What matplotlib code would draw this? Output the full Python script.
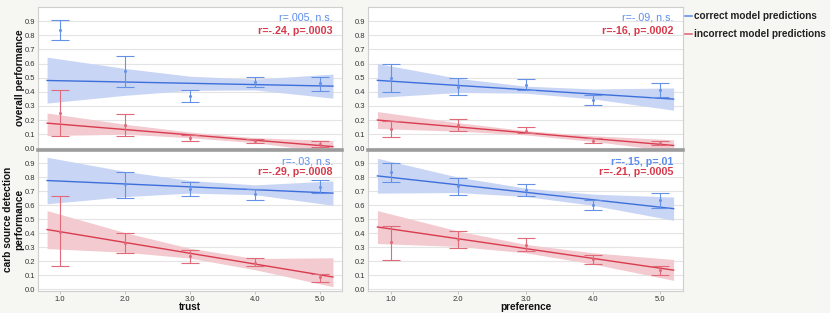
import matplotlib
matplotlib.use("Agg")
import matplotlib.pyplot as plt
from matplotlib.lines import Line2D
import numpy as np

plt.rcParams['font.family'] = ['Liberation Sans', 'DejaVu Sans']

# ---------------- data ----------------
levels = [1.0, 2.0, 3.0, 4.0, 5.0]
xtick_labels = ["1.0", "2.0", "3.0", "4.0", "5.0"]
band_x = [0.8, 2.0, 3.0, 4.0, 5.2]

# top-left: trust vs overall performance
tl_blue_x = [1, 2, 3, 4, 5]
tl_blue_mean = [0.835, 0.55, 0.37, 0.47, 0.46]
tl_blue_lo = [0.765, 0.435, 0.33, 0.435, 0.405]
tl_blue_hi = [0.905, 0.655, 0.41, 0.505, 0.505]
tl_blue_fit = [0.48, 0.44]
tl_blue_band_lo = [0.32, 0.375, 0.41, 0.413, 0.355]
tl_blue_band_hi = [0.645, 0.565, 0.51, 0.49, 0.525]
tl_red_x = [1, 2, 3, 4, 5]
tl_red_mean = [0.25, 0.165, 0.075, 0.055, 0.03]
tl_red_lo = [0.09, 0.09, 0.05, 0.04, 0.012]
tl_red_hi = [0.41, 0.245, 0.095, 0.067, 0.05]
tl_red_fit = [0.178, 0.012]
tl_red_band_lo = [0.09, 0.10, 0.075, 0.04, -0.03]
tl_red_band_hi = [0.25, 0.17, 0.115, 0.075, 0.055]

# top-right: preference vs overall performance
tr_blue_x = [1, 2, 3, 4, 5]
tr_blue_mean = [0.50, 0.435, 0.45, 0.34, 0.41]
tr_blue_lo = [0.40, 0.375, 0.41, 0.305, 0.36]
tr_blue_hi = [0.60, 0.495, 0.49, 0.375, 0.465]
tr_blue_fit = [0.481, 0.348]
tr_blue_band_lo = [0.36, 0.395, 0.39, 0.35, 0.27]
tr_blue_band_hi = [0.60, 0.495, 0.44, 0.42, 0.427]
tr_red_x = [1, 2, 3, 4, 5]
tr_red_mean = [0.135, 0.165, 0.12, 0.055, 0.035]
tr_red_lo = [0.08, 0.125, 0.105, 0.04, 0.02]
tr_red_hi = [0.19, 0.21, 0.15, 0.07, 0.055]
tr_red_fit = [0.20, 0.02]
tr_red_band_lo = [0.14, 0.121, 0.095, 0.049, -0.02]
tr_red_band_hi = [0.26, 0.181, 0.125, 0.089, 0.06]

# bottom-left: trust vs carb source detection
bl_blue_x = [2, 3, 4, 5]
bl_blue_mean = [0.75, 0.72, 0.68, 0.73]
bl_blue_lo = [0.655, 0.67, 0.64, 0.685]
bl_blue_hi = [0.84, 0.765, 0.715, 0.78]
bl_blue_fit = [0.777, 0.687]
bl_blue_band_lo = [0.611, 0.662, 0.687, 0.676, 0.60]
bl_blue_band_hi = [0.943, 0.842, 0.777, 0.746, 0.774]
bl_red_x = [1, 2, 3, 4, 5]
bl_red_mean = [0.41, 0.33, 0.235, 0.19, 0.085]
bl_red_lo = [0.165, 0.26, 0.19, 0.165, 0.055]
bl_red_hi = [0.665, 0.40, 0.28, 0.225, 0.11]
bl_red_fit = [0.427, 0.088]
bl_red_band_lo = [0.291, 0.265, 0.223, 0.14, 0.019]
bl_red_band_hi = [0.562, 0.405, 0.293, 0.22, 0.225]

# bottom-right: preference vs carb source detection
br_blue_x = [1, 2, 3, 4, 5]
br_blue_mean = [0.835, 0.74, 0.71, 0.605, 0.635]
br_blue_lo = [0.765, 0.675, 0.67, 0.565, 0.58]
br_blue_hi = [0.90, 0.795, 0.75, 0.64, 0.685]
br_blue_fit = [0.81, 0.576]
br_blue_band_lo = [0.687, 0.691, 0.663, 0.60, 0.493]
br_blue_band_hi = [0.936, 0.801, 0.723, 0.68, 0.659]
br_red_x = [1, 2, 3, 4, 5]
br_red_mean = [0.335, 0.36, 0.32, 0.215, 0.135]
br_red_lo = [0.21, 0.295, 0.275, 0.18, 0.105]
br_red_hi = [0.455, 0.42, 0.365, 0.245, 0.165]
br_red_fit = [0.445, 0.137]
br_red_band_lo = [0.327, 0.306, 0.261, 0.181, 0.064]
br_red_band_hi = [0.562, 0.416, 0.321, 0.261, 0.213]

annotations = {
    "tl": ("r=.005, n.s.", False, "r=-.24, p=.0003", True),
    "tr": ("r=-.09, n.s.", False, "r=-16, p=.0002", True),
    "bl": ("r=-.03, n.s.", False, "r=-.29, p=.0008", True),
    "br": ("r=-.15, p=.01", True, "r=-.21, p=.0005", True),
}
legend_labels = ["correct model predictions", "incorrect model predictions"]

# ---------------- styling ----------------
BG = "#f6f6f2"
BLUE_LINE = "#3d6fdc"
RED_LINE = "#d83c4e"
BLUE_BAR = "#6592e6"
RED_BAR = "#e06a79"
BLUE_BAND = "#c9d5f4"
RED_BAND = "#f3cacf"
BLUE_TXT = "#5d8ded"
RED_TXT = "#d8394a"

W, H = 830, 313
fig = plt.figure(figsize=(W / 100, H / 100), dpi=100, facecolor=BG)


def px_axes(x0, y0, x1, y1):
    return fig.add_axes([x0 / W, 1 - y1 / H, (x1 - x0) / W, (y1 - y0) / H])


ax_tl = px_axes(38, 7, 342, 150)
ax_tr = px_axes(368, 7, 683, 150)
ax_bl = px_axes(38, 150, 342, 291)
ax_br = px_axes(368, 150, 683, 291)


def draw_series(ax, x, mean, lo, hi, fit, blo, bhi, line_c, bar_c, band_c):
    bx = np.array(band_x)
    ax.fill_between(bx, blo, bhi, color=band_c, lw=0, zorder=1)
    ax.plot([band_x[0], band_x[-1]], fit, color=line_c, lw=1.0, zorder=3)
    mean = np.array(mean)
    yerr = [mean - np.array(lo), np.array(hi) - mean]
    ax.errorbar(x, mean, yerr=yerr, fmt='o', ms=1.2, color=bar_c,
                ecolor=bar_c, elinewidth=0.8, capsize=6.2, capthick=0.8,
                zorder=4)


panels = [
    (ax_tl, "tl", (tl_blue_x, tl_blue_mean, tl_blue_lo, tl_blue_hi, tl_blue_fit, tl_blue_band_lo, tl_blue_band_hi),
     (tl_red_x, tl_red_mean, tl_red_lo, tl_red_hi, tl_red_fit, tl_red_band_lo, tl_red_band_hi)),
    (ax_tr, "tr", (tr_blue_x, tr_blue_mean, tr_blue_lo, tr_blue_hi, tr_blue_fit, tr_blue_band_lo, tr_blue_band_hi),
     (tr_red_x, tr_red_mean, tr_red_lo, tr_red_hi, tr_red_fit, tr_red_band_lo, tr_red_band_hi)),
    (ax_bl, "bl", (bl_blue_x, bl_blue_mean, bl_blue_lo, bl_blue_hi, bl_blue_fit, bl_blue_band_lo, bl_blue_band_hi),
     (bl_red_x, bl_red_mean, bl_red_lo, bl_red_hi, bl_red_fit, bl_red_band_lo, bl_red_band_hi)),
    (ax_br, "br", (br_blue_x, br_blue_mean, br_blue_lo, br_blue_hi, br_blue_fit, br_blue_band_lo, br_blue_band_hi),
     (br_red_x, br_red_mean, br_red_lo, br_red_hi, br_red_fit, br_red_band_lo, br_red_band_hi)),
]

for ax, key, blue, red in panels:
    ax.set_facecolor("white")
    draw_series(ax, *blue, BLUE_LINE, BLUE_BAR, BLUE_BAND)
    draw_series(ax, *red, RED_LINE, RED_BAR, RED_BAND)
    ax.set_xlim(0.66, 5.34)
    top = key in ("tl", "tr")
    ax.set_ylim(-0.012, 1.0 if top else 0.995)
    ax.set_yticks(np.arange(0, 1.0, 0.1))
    ax.set_yticklabels([f"{v:.1f}" for v in np.arange(0, 1.0, 0.1)])
    ax.yaxis.grid(True, color="#e4e4e4", lw=0.8, zorder=0)
    ax.set_axisbelow(True)
    ax.tick_params(axis='y', length=0, pad=2, labelsize=5.5, labelcolor="#333333")
    ax.set_xticks(levels)
    if top:
        ax.tick_params(axis='x', length=0, labelbottom=False)
    else:
        ax.set_xticklabels(xtick_labels)
        ax.tick_params(axis='x', length=2, width=0.6, color="#bbbbbb", pad=1.5,
                       labelsize=5.5, labelcolor="#333333")
    for s in ax.spines.values():
        s.set_color("#cfcfcf")
        s.set_linewidth(0.8)
    t1, b1, t2, b2 = annotations[key]
    ax.text(0.97, 0.925 if top else 0.915, t1, transform=ax.transAxes, ha='right', va='center',
            fontsize=7.7, color=BLUE_TXT, fontweight='bold' if b1 else 'normal', zorder=6)
    ax.text(0.97, 0.835 if top else 0.845, t2, transform=ax.transAxes, ha='right', va='center',
            fontsize=7.7, color=RED_TXT, fontweight='bold' if b2 else 'normal', zorder=6)

# axis titles placed at their pixel positions
fig.text(20 / W, 1 - 77.5 / H, "overall performance", rotation=90, ha='center', va='center',
         fontsize=7.3, fontweight='bold', color="#111111")
fig.text(14 / W, 1 - 219 / H, "carb source detection\nperformance", rotation=90, ha='center',
         va='center', fontsize=7.3, fontweight='bold', color="#111111", linespacing=1.15,
         multialignment='center')
fig.text(190 / W, 1 - 306.5 / H, "trust", ha='center', va='center',
         fontsize=7.2, fontweight='bold', color="#111111")
fig.text(526 / W, 1 - 306.5 / H, "preference", ha='center', va='center',
         fontsize=7.2, fontweight='bold', color="#111111")

# separator bars between the top and bottom rows
for x0, x1 in [(38, 342), (368, 683)]:
    fig.add_artist(Line2D([x0 / W, x1 / W], [1 - 150 / H, 1 - 150 / H],
                          color="#9c9c9c", lw=2.6, transform=fig.transFigure, zorder=10))

# legend
for i, (lab, c) in enumerate(zip(legend_labels, [BLUE_BAR, RED_BAR])):
    yy = 1 - (16 + 18 * i) / H
    fig.add_artist(Line2D([685 / W, 692 / W], [yy, yy], color=c, lw=1.2,
                          transform=fig.transFigure))
    fig.text(694 / W, yy, lab, fontsize=7.2, fontweight='bold', color="#222222",
             va='center', ha='left')

fig.savefig("out.png", dpi=100, facecolor=BG)
